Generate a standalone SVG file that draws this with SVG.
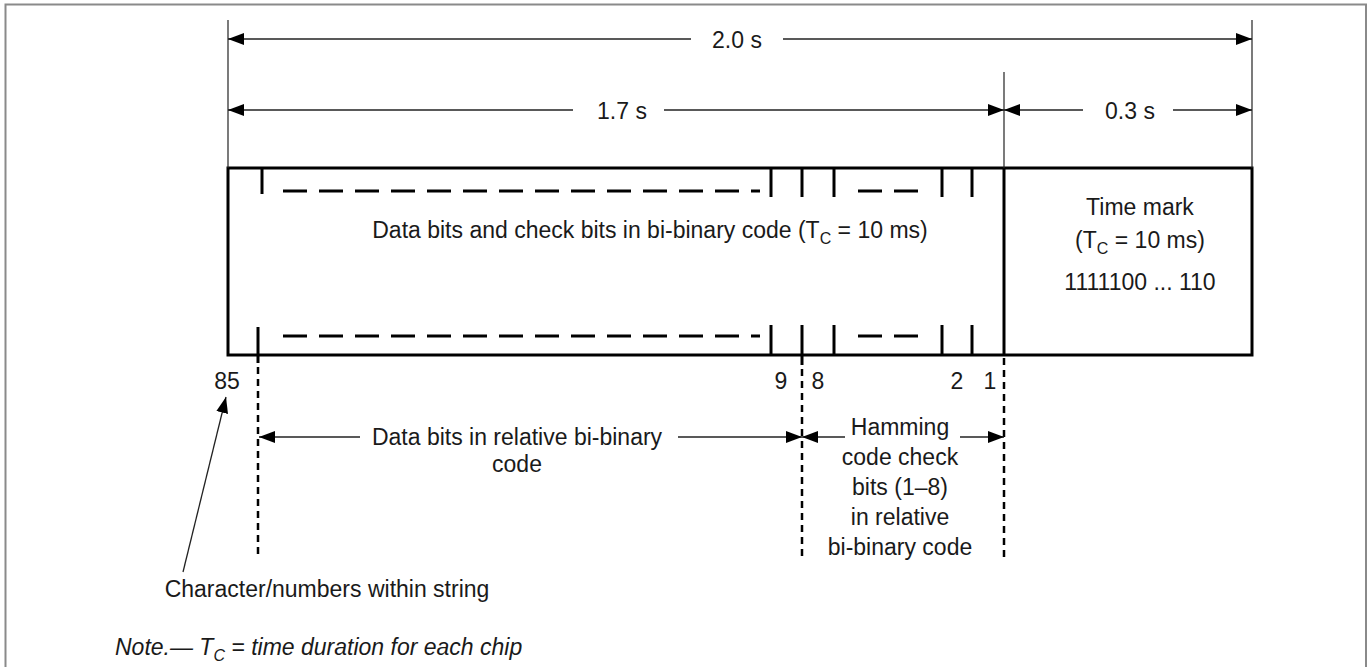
<svg xmlns="http://www.w3.org/2000/svg" width="1369" height="667" viewBox="0 0 1369 667">
<style>
text{font-family:"Liberation Sans",Arial,sans-serif;font-size:23px;fill:#1a1a1a}
.c{text-anchor:middle}
.sub{font-size:16px}
.ext{stroke:#222;stroke-width:1.2;fill:none}
.dim{stroke:#222;stroke-width:1.3;fill:none;marker-end:url(#ah)}
.box{stroke:#000;stroke-width:3;fill:#fff}
.tick{stroke:#000;stroke-width:3;fill:none}
.dash{stroke:#000;stroke-width:3;fill:none;stroke-dasharray:24 12}
.vd{stroke:#000;stroke-width:2.5;fill:none;stroke-dasharray:7 5}
</style>
<defs>
<marker id="ah" markerUnits="userSpaceOnUse" markerWidth="17" markerHeight="13" refX="16" refY="6" orient="auto">
<path d="M0,0 L16,6 L0,12 Z" fill="#000"/>
</marker>
</defs>
<rect width="1369" height="667" fill="#fff"/>
<path d="M5.5,667 V4.5 H1366 V667" fill="none" stroke="#8a8a8a" stroke-width="2"/>

<g id="frame-box">
<rect class="box" x="228" y="168" width="1024" height="187"/>
<line class="tick" x1="1004" y1="168" x2="1004" y2="355"/>
<!-- top ticks and dashes -->
<line class="tick" x1="262" y1="168" x2="262" y2="194"/>
<line class="dash" x1="283" y1="191" x2="760" y2="191"/>
<line class="tick" x1="771" y1="168" x2="771" y2="197"/>
<line class="tick" x1="802" y1="168" x2="802" y2="197"/>
<line class="tick" x1="834" y1="168" x2="834" y2="197"/>
<line class="dash" x1="858" y1="191" x2="920" y2="191"/>
<line class="tick" x1="942" y1="168" x2="942" y2="197"/>
<line class="tick" x1="972" y1="168" x2="972" y2="197"/>
<!-- bottom ticks and dashes -->
<line class="tick" x1="258" y1="327" x2="258" y2="363"/>
<line class="dash" x1="283" y1="336" x2="760" y2="336"/>
<line class="tick" x1="771" y1="325" x2="771" y2="355"/>
<line class="tick" x1="802" y1="325" x2="802" y2="365"/>
<line class="tick" x1="834" y1="325" x2="834" y2="355"/>
<line class="dash" x1="858" y1="336" x2="920" y2="336"/>
<line class="tick" x1="942" y1="325" x2="942" y2="355"/>
<line class="tick" x1="972" y1="325" x2="972" y2="355"/>
</g>

<g id="data-label">
<text class="c" x="650" y="238">Data bits and check bits in bi-binary code (T<tspan class="sub" dy="6">C</tspan><tspan dy="-6"> = 10 ms)</tspan></text>
</g>
<g id="time-mark">
<text class="c" x="1140" y="215">Time mark</text>
<text class="c" x="1140" y="248">(T<tspan class="sub" dy="6">C</tspan><tspan dy="-6"> = 10 ms)</tspan></text>
<text class="c" x="1140" y="290">1111100 ... 110</text>
</g>

<g id="connectors">
<line class="ext" x1="228" y1="20" x2="228" y2="168"/>
<line class="ext" x1="1252" y1="20" x2="1252" y2="168"/>
<line class="ext" x1="1004" y1="72" x2="1004" y2="168"/>
<line class="dim" x1="691" y1="39" x2="228" y2="39"/>
<line class="dim" x1="783" y1="39" x2="1252" y2="39"/>
<line class="dim" x1="573" y1="110" x2="228" y2="110"/>
<line class="dim" x1="664" y1="110" x2="1004" y2="110"/>
<line class="dim" x1="1083" y1="110" x2="1004" y2="110"/>
<line class="dim" x1="1173" y1="110" x2="1252" y2="110"/>
<line class="vd" x1="258" y1="367" x2="258" y2="557"/>
<line class="vd" x1="802" y1="369" x2="802" y2="557"/>
<line class="vd" x1="1004" y1="358" x2="1004" y2="557"/>
<line class="dim" x1="360" y1="437" x2="259" y2="437"/>
<line class="dim" x1="678" y1="437" x2="802" y2="437"/>
<line class="dim" x1="845" y1="437" x2="802" y2="437"/>
<line class="dim" x1="960" y1="437" x2="1004" y2="437"/>
<line class="dim" x1="183" y1="572" x2="226" y2="397"/>
</g>

<g id="dim-labels">
<text class="c" x="737" y="48">2.0 s</text>
<text class="c" x="622" y="119">1.7 s</text>
<text class="c" x="1130" y="119">0.3 s</text>
</g>
<g id="bit-numbers">
<text class="c" x="227" y="389">85</text>
<text class="c" x="781" y="389">9</text>
<text class="c" x="818" y="389">8</text>
<text class="c" x="957" y="389">2</text>
<text class="c" x="990" y="389">1</text>
</g>
<g id="data-bits-label">
<text class="c" x="517" y="445">Data bits in relative bi-binary</text>
<text class="c" x="517" y="472">code</text>
</g>
<g id="hamming-label">
<text class="c" x="900" y="435">Hamming</text>
<text class="c" x="900" y="465">code check</text>
<text class="c" x="900" y="495">bits (1–8)</text>
<text class="c" x="900" y="525">in relative</text>
<text class="c" x="900" y="555">bi-binary code</text>
</g>
<g id="char-label">
<text class="c" x="327" y="597">Character/numbers within string</text>
</g>
<g id="note">
<text x="115" y="655" font-style="italic">Note.— T<tspan class="sub" dy="6">C</tspan><tspan dy="-6"> = time duration for each chip</tspan></text>
</g>
</svg>
